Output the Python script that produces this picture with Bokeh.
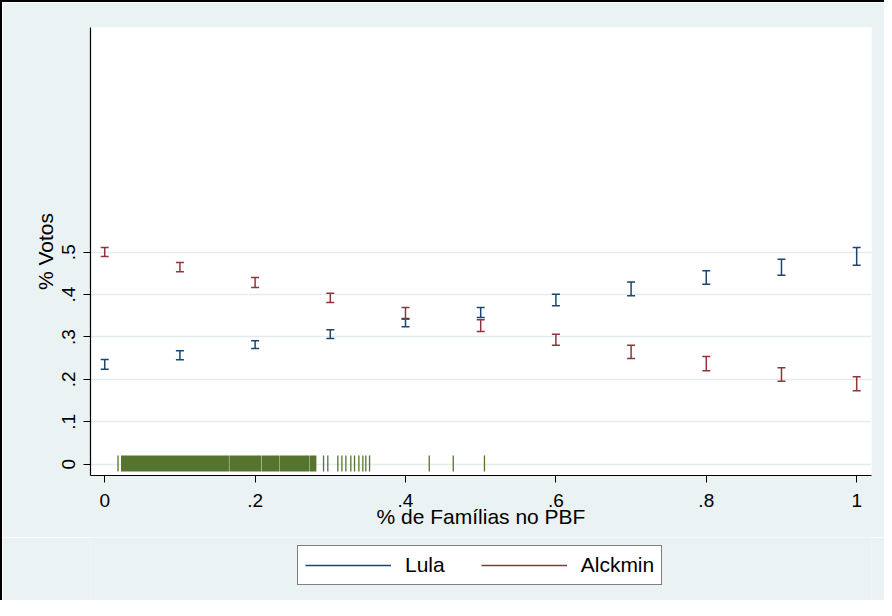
from bokeh.plotting import figure
from bokeh.layouts import column
from bokeh.models import Range1d, FixedTicker, Legend, LegendItem
from bokeh.embed import file_html
from bokeh.resources import INLINE

# ---- data ----
x_vals = [0.0, 0.1, 0.2, 0.3, 0.4, 0.5, 0.6, 0.7, 0.8, 0.9, 1.0]
lula_lo = [0.224, 0.2465, 0.273, 0.2966, 0.324, 0.346, 0.3736, 0.397, 0.4245, 0.4458, 0.469]
lula_hi = [0.247, 0.2675, 0.291, 0.3168, 0.3436, 0.3696, 0.401, 0.430, 0.456, 0.4835, 0.511]
alck_lo = [0.4898, 0.4538, 0.4167, 0.3814, 0.342, 0.313, 0.2807, 0.2493, 0.2203, 0.1958, 0.1731]
alck_hi = [0.511, 0.4757, 0.4403, 0.4033, 0.3696, 0.3406, 0.3066, 0.2807, 0.254, 0.2274, 0.2061]

rug_ticks = [0.0177, 0.291, 0.2967, 0.310, 0.3154, 0.3207, 0.3273, 0.3322, 0.338,
             0.3433, 0.3472, 0.3522, 0.4316, 0.4635, 0.505]
rug_band_lo = [0.0217, 0.1657, 0.2087, 0.2323, 0.2722]
rug_band_hi = [0.1652, 0.2082, 0.2318, 0.2717, 0.2815]

x_tick_vals = [0, 0.2, 0.4, 0.6, 0.8, 1.0]
x_tick_labels = ["0", ".2", ".4", ".6", ".8", "1"]
y_tick_vals = [0, 0.1, 0.2, 0.3, 0.4, 0.5]
y_tick_labels = ["0", ".1", ".2", ".3", ".4", ".5"]

series_names = ["Lula", "Alckmin"]
x_title = "% de Famílias no PBF"
y_title = "% Votos"

# ---- styles ----
FONT = "Liberation Sans"
BG = "#eaf2f3"
C_LULA = "#1a476f"
C_ALCK = "#90353b"
C_RUG = "#55752f"

p = figure(width=882, height=535, output_backend="svg", toolbar_location=None,
           x_range=Range1d(-0.0189, 1.0197), y_range=Range1d(-0.0267, 1.03),
           min_border_left=88, min_border_right=13, min_border_top=25, min_border_bottom=62)
p.border_fill_color = BG
p.background_fill_color = "white"
p.outline_line_color = None

# rug
p.quad(left=rug_band_lo, right=rug_band_hi, bottom=-0.0175, top=0.0205,
       fill_color=C_RUG, line_color=None)
p.segment(x0=rug_ticks, x1=rug_ticks, y0=-0.0175, y1=0.0205, line_color=C_RUG, line_width=1.3)

# error bars
p.segment(x0=x_vals, x1=x_vals, y0=lula_lo, y1=lula_hi, line_color=C_LULA, line_width=1.5)
p.scatter(x=x_vals + x_vals, y=lula_lo + lula_hi, marker="dash", size=8,
          line_color=C_LULA, line_width=1.5)
p.segment(x0=x_vals, x1=x_vals, y0=alck_lo, y1=alck_hi, line_color=C_ALCK, line_width=1.5)
p.scatter(x=x_vals + x_vals, y=alck_lo + alck_hi, marker="dash", size=8,
          line_color=C_ALCK, line_width=1.5)

# axes
p.xaxis.ticker = FixedTicker(ticks=x_tick_vals)
p.xaxis.major_label_overrides = dict(zip(x_tick_vals, x_tick_labels))
p.yaxis.ticker = FixedTicker(ticks=y_tick_vals)
p.yaxis.major_label_overrides = dict(zip(y_tick_vals, y_tick_labels))
p.yaxis.major_label_orientation = "vertical"
p.xaxis.axis_label = x_title
p.yaxis.axis_label = y_title
for ax in (p.xaxis, p.yaxis):
    ax.axis_line_color = "black"
    ax.axis_line_width = 1.2
    ax.major_tick_line_color = "black"
    ax.major_tick_in = 0
    ax.major_tick_out = 7
    ax.minor_tick_line_color = None
    ax.major_label_text_font = FONT
    ax.major_label_text_font_size = "19px"
    ax.major_label_text_color = "black"
    ax.axis_label_text_font = FONT
    ax.axis_label_text_font_size = "21px"
    ax.axis_label_text_font_style = "normal"
    ax.axis_label_text_color = "black"
p.xaxis.major_label_standoff = 11
p.xaxis.axis_label_standoff = -5
p.yaxis.major_label_standoff = 8
p.yaxis.axis_label_standoff = 3

p.xgrid.grid_line_color = None
p.ygrid.ticker = FixedTicker(ticks=y_tick_vals)
p.ygrid.grid_line_color = "#e4ecee"
p.ygrid.grid_line_width = 1.5

# legend strip below the chart (its own ranges keep the key glyphs out of view)
lg = figure(width=882, height=63, output_backend="svg", toolbar_location=None,
            x_axis_location=None, y_axis_location=None,
            x_range=Range1d(-0.0189, 1.0197), y_range=Range1d(2, 3),
            min_border_left=88, min_border_right=13, min_border_top=0, min_border_bottom=0)
lg.border_fill_color = BG
lg.background_fill_color = BG
lg.outline_line_color = None
lg.xgrid.visible = False
lg.ygrid.visible = False
k_lula = lg.segment(x0=x_vals, x1=x_vals, y0=lula_lo, y1=lula_hi, line_color=C_LULA, line_width=1.3)
k_alck = lg.segment(x0=x_vals, x1=x_vals, y0=alck_lo, y1=alck_hi, line_color=C_ALCK, line_width=1.3)

legend = Legend(items=[LegendItem(label=series_names[0], renderers=[k_lula]),
                       LegendItem(label=series_names[1], renderers=[k_alck])],
                orientation="horizontal", location=(207, 15))
legend.border_line_color = "black"
legend.border_line_width = 1.5
legend.background_fill_color = "white"
legend.background_fill_alpha = 1
legend.label_text_font = FONT
legend.label_text_font_size = "21px"
legend.label_text_color = "black"
legend.glyph_width = 86
legend.glyph_height = 20
legend.label_standoff = 14
legend.spacing = 36
legend.padding = 7
legend.margin = 0
lg.add_layout(legend, "center")

layout = column(p, lg, spacing=0)
layout.styles = {"border-top": "2px solid black", "border-left": "2px solid black"}

open("out.html", "w").write(file_html(layout, INLINE))
